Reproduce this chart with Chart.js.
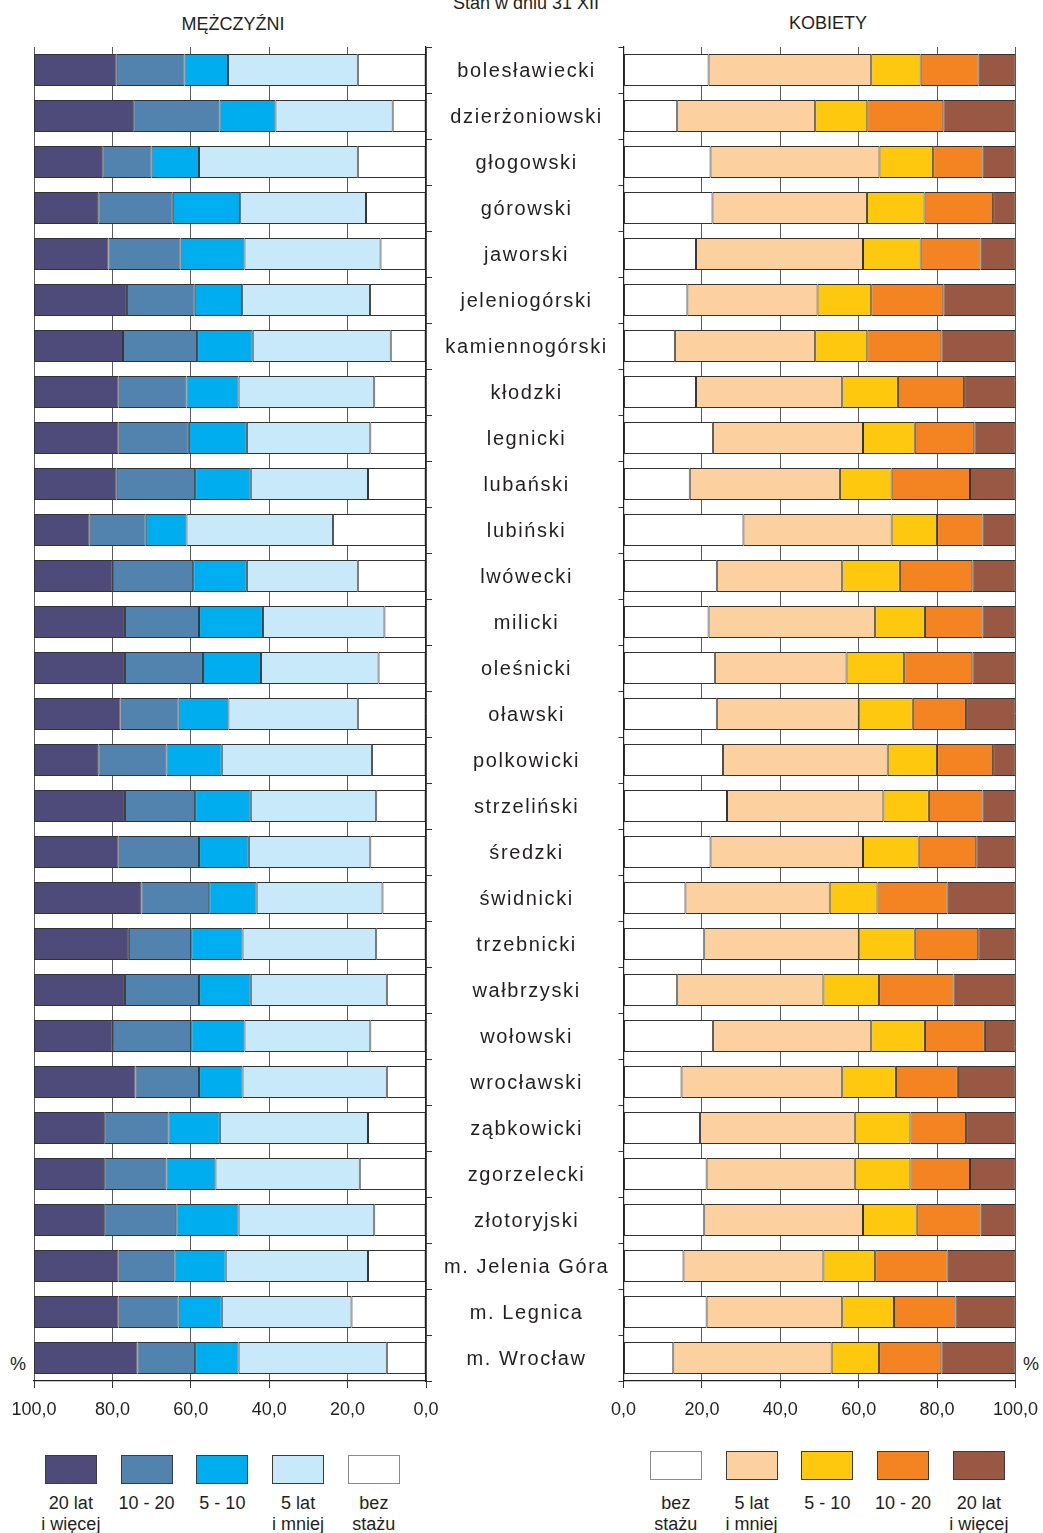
<!DOCTYPE html>
<html lang="pl">
<head>
<meta charset="utf-8">
<title>Pracujący według stażu pracy – stan w dniu 31 XII</title>
<script src="https://cdn.jsdelivr.net/npm/chart.js@4.4.1/dist/chart.umd.min.js"></script>
<style>
  html, body { margin: 0; padding: 0; background: #fff; }
  body { width: 1043px; height: 1533px; position: relative; overflow: hidden;
         font-family: "Liberation Sans", Arial, sans-serif; color: #231f20; }
  .wrap { position: absolute; top: 0; height: 1430px; }
  #menWrap { left: 0; width: 620px; }
  #womenWrap { left: 600px; width: 449px; }
  .head { position: absolute; font-size: 18px; line-height: 20px; white-space: nowrap; transform: translateX(-50%); }
  .pct { position: absolute; font-size: 18px; line-height: 20px; }
  .legend { position: absolute; display: flex; }
  .legend .item { width: 75.75px; text-align: center; font-size: 18px; line-height: 21px; }
  .legend .swatch { width: 52px; height: 29px; box-sizing: border-box; border: 1.5px solid #3b3b3b; margin: 0 auto; }
  .legend .txt { white-space: pre-line; }
</style>
</head>
<body>
<div class="head" style="left:526px; top:-7px;">Stan w dniu 31 XII</div>
<div class="head" style="left:233px; top:14px;">MĘŻCZYŹNI</div>
<div class="head" style="left:828px; top:13px;">KOBIETY</div>
<div class="pct" style="left:10px; top:1354px;">%</div>
<div class="pct" style="left:1023px; top:1354px;">%</div>

<div class="wrap" id="menWrap"><canvas id="menChart"></canvas></div>
<div class="wrap" id="womenWrap"><canvas id="womenChart"></canvas></div>

<div class="legend" id="menLegend" style="left:33px; top:1455px;"></div>
<div class="legend" id="womenLegend" style="left:638px; top:1451px;"></div>

<script>
// Pracujący wg stażu pracy w powiatach (%), mężczyźni i kobiety
const categories = ['bolesławiecki', 'dzierżoniowski', 'głogowski', 'górowski', 'jaworski',
  'jeleniogórski', 'kamiennogórski', 'kłodzki', 'legnicki', 'lubański', 'lubiński', 'lwówecki',
  'milicki', 'oleśnicki', 'oławski', 'polkowicki', 'strzeliński', 'średzki', 'świdnicki',
  'trzebnicki', 'wałbrzyski', 'wołowski', 'wrocławski', 'ząbkowicki', 'zgorzelecki',
  'złotoryjski', 'm. Jelenia Góra', 'm. Legnica', 'm. Wrocław'];

const seriesLabels = ['bez\nstażu', '5 lat\ni mniej', '5 - 10', '10 - 20', '20 lat\ni więcej'];
const xTicks = [0, 20, 40, 60, 80, 100];

const menNoSeniority = [17.4, 8.5, 17.4, 15.3, 11.6, 14.3, 9.0, 13.2, 14.2, 14.8, 23.7, 17.4, 10.6, 12.1, 17.4, 13.8, 12.7, 14.2, 11.1, 12.7, 10.0, 14.2, 10.0, 14.8, 16.9, 13.2, 14.8, 19.0, 10.0];
const menUpTo5 = [33.1, 29.9, 40.5, 32.1, 34.7, 32.6, 35.2, 34.6, 31.5, 29.9, 37.4, 28.3, 31.0, 30.0, 33.0, 38.3, 32.0, 31.0, 32.1, 34.1, 34.7, 32.1, 36.8, 37.8, 36.8, 34.6, 36.3, 33.1, 37.8];
const men5to10 = [11.1, 14.3, 12.1, 17.2, 16.3, 12.1, 14.2, 13.3, 14.8, 14.2, 10.4, 13.7, 16.3, 14.8, 12.7, 14.1, 14.2, 12.7, 12.1, 13.1, 13.2, 13.6, 11.1, 13.1, 12.5, 15.9, 13.1, 11.0, 11.1];
const men10to20 = [17.3, 22.0, 12.6, 19.0, 18.4, 17.3, 18.9, 17.3, 17.9, 20.0, 14.3, 20.5, 18.9, 19.9, 14.8, 17.4, 17.9, 20.5, 17.3, 15.9, 18.9, 20.0, 16.2, 16.4, 15.9, 18.4, 14.2, 15.3, 14.7];
const men20plus = [21.1, 25.3, 17.4, 16.4, 19.0, 23.7, 22.7, 21.6, 21.6, 21.1, 14.2, 20.1, 23.2, 23.2, 22.1, 16.4, 23.2, 21.6, 27.4, 24.2, 23.2, 20.1, 25.9, 17.9, 17.9, 17.9, 21.6, 21.6, 26.4];

const womenNoSeniority = [21.7, 13.7, 22.2, 22.7, 18.5, 16.3, 13.1, 18.5, 22.8, 16.9, 30.6, 23.8, 21.7, 23.3, 23.8, 25.4, 26.4, 22.2, 15.8, 20.6, 13.7, 22.8, 14.8, 19.5, 21.2, 20.6, 15.3, 21.2, 12.7];
const womenUpTo5 = [41.5, 35.2, 43.1, 39.4, 42.6, 33.2, 35.8, 37.3, 38.3, 38.3, 37.8, 32.0, 42.5, 33.6, 36.2, 42.0, 39.9, 38.9, 36.8, 39.4, 37.3, 40.4, 41.0, 39.5, 37.8, 40.5, 35.7, 34.6, 40.4];
const women5to10 = [12.6, 13.3, 13.7, 14.7, 14.7, 13.7, 13.3, 14.2, 13.2, 13.2, 11.6, 14.7, 12.7, 14.7, 13.8, 12.6, 11.6, 14.2, 12.2, 14.3, 14.2, 13.7, 13.7, 14.2, 14.2, 13.7, 13.2, 13.2, 12.1];
const women10to20 = [14.8, 19.4, 12.6, 17.5, 15.3, 18.4, 18.9, 16.9, 15.2, 20.0, 11.6, 18.5, 14.7, 17.4, 13.6, 14.3, 13.7, 14.7, 17.9, 16.2, 19.0, 15.3, 15.8, 14.2, 15.2, 16.3, 18.5, 15.7, 15.9];
const women20plus = [9.4, 18.4, 8.4, 5.7, 8.9, 18.4, 18.9, 13.2, 10.5, 11.6, 8.4, 11.0, 8.4, 11.0, 12.6, 5.7, 8.4, 10.0, 17.3, 9.5, 15.8, 7.8, 14.7, 12.6, 11.6, 8.9, 17.3, 15.3, 18.9];

const menColors = ['#ffffff', '#c7e9f9', '#00aeef', '#5283ae', '#4e4b7a'];
const womenColors = ['#ffffff', '#fdd09f', '#fec80e', '#f38421', '#985844'];

Chart.defaults.font.family = '"Liberation Sans", Arial, sans-serif';
Chart.defaults.color = '#231f20';

const fmt = v => Number(v).toFixed(1).replace('.', ',');

// wider spacing for the district names (drawn after the bars)
const labelSpacing = {
  id: 'labelSpacing',
  beforeDraw(chart) { chart.ctx.letterSpacing = '0px'; },
  afterDatasetsDraw(chart) { chart.ctx.letterSpacing = '1.6px'; },
  afterDraw(chart) { chart.ctx.letterSpacing = '0px'; }
};

function makeDatasets(series, colors) {
  return series.map((data, i) => ({
    label: seriesLabels[i],
    data: data,
    backgroundColor: colors[i],
    borderColor: '#333333',
    borderWidth: 1,
    borderSkipped: false,
    barPercentage: 0.7,
    categoryPercentage: 1.0
  }));
}

function xScale(reverse) {
  return {
    stacked: true, reverse: reverse, min: 0, max: 100,
    afterBuildTicks: s => { s.ticks = xTicks.map(v => ({ value: v })); },
    afterFit: s => { s.height = 49; },
    grid: { color: '#5a5a5a', lineWidth: 1, drawTicks: true, tickLength: 7, tickColor: '#333' },
    border: { color: '#231f20', width: 1.2, z: 1 },
    ticks: { font: { size: 18 }, color: '#231f20', padding: 11, maxRotation: 0, callback: v => fmt(v) }
  };
}

const menChart = new Chart(document.getElementById('menChart'), {
  type: 'bar',
  data: {
    labels: categories,
    datasets: makeDatasets([menNoSeniority, menUpTo5, men5to10, men10to20, men20plus], menColors)
  },
  options: {
    indexAxis: 'y', responsive: true, maintainAspectRatio: false, animation: false,
    layout: { padding: { left: 34, right: 0, top: 47, bottom: 0 } },
    plugins: { legend: { display: false }, tooltip: { enabled: false } },
    scales: {
      x: xScale(true),
      y: {
        stacked: true, position: 'right',
        afterFit: s => { s.width = 194; },
        grid: { drawOnChartArea: false, drawTicks: true, tickLength: 6, color: '#333' },
        border: { color: '#231f20', width: 1.2, z: 1 },
        ticks: { z: 1, font: { size: 20 }, color: '#231f20', crossAlign: 'center', padding: 24, labelOffset: 1.5 }
      }
    }
  },
  plugins: [labelSpacing]
});

const womenChart = new Chart(document.getElementById('womenChart'), {
  type: 'bar',
  data: {
    labels: categories,
    datasets: makeDatasets([womenNoSeniority, womenUpTo5, women5to10, women10to20, women20plus], womenColors)
  },
  options: {
    indexAxis: 'y', responsive: true, maintainAspectRatio: false, animation: false,
    layout: { padding: { left: 0, right: 0, top: 47, bottom: 0 } },
    plugins: { legend: { display: false }, tooltip: { enabled: false } },
    scales: {
      x: xScale(false),
      y: {
        stacked: true, position: 'left',
        afterFit: s => { s.width = 21; },
        grid: { drawOnChartArea: false, drawTicks: true, tickLength: 5, color: '#333' },
        border: { color: '#231f20', width: 1.2, z: 1 },
        ticks: { display: false }
      }
    }
  }
});

// legends: box on top, two-line label below
function buildLegend(el, chart, order, gap) {
  order.forEach(i => {
    const ds = chart.data.datasets[i];
    const item = document.createElement('div');
    item.className = 'item';
    const sw = document.createElement('div');
    sw.className = 'swatch';
    sw.style.background = ds.backgroundColor;
    if (ds.backgroundColor === '#ffffff') sw.style.borderColor = '#8a8a8a';
    const tx = document.createElement('div');
    tx.className = 'txt';
    tx.style.marginTop = gap + 'px';
    tx.textContent = ds.label;
    item.appendChild(sw);
    item.appendChild(tx);
    el.appendChild(item);
  });
}
buildLegend(document.getElementById('menLegend'), menChart, [4, 3, 2, 1, 0], 9);
buildLegend(document.getElementById('womenLegend'), womenChart, [0, 1, 2, 3, 4], 13);
</script>
</body>
</html>
